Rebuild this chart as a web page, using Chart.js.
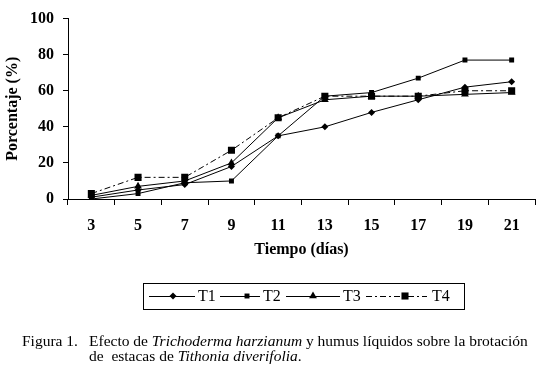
<!DOCTYPE html>
<html>
<head>
<meta charset="utf-8">
<script src="https://cdn.jsdelivr.net/npm/chart.js@4/dist/chart.umd.min.js"></script>
<style>
  html, body { margin: 0; padding: 0; background: #fff; }
  #wrap { position: relative; width: 540px; height: 368px; }
  .cap { position: absolute; font-family: "Liberation Serif", "Times New Roman", serif; font-size: 15.5px; line-height: 17px; color: #000; white-space: nowrap; }
</style>
</head>
<body>
<div id="wrap">
  <canvas id="chart_brotacion" width="540" height="368"></canvas>
  <div class="cap" style="left:22px; top:332px;">Figura 1.</div>
  <div class="cap" style="left:89px; top:332px;">Efecto de <i>Trichoderma harzianum</i> y humus líquidos sobre la brotación</div>
  <div class="cap" style="left:89px; top:347px;">de&nbsp; estacas de <i>Tithonia diverifolia</i>.</div>
</div>
<script>
var dias = ['3', '5', '7', '9', '11', '13', '15', '17', '19', '21'];
var t1 = [1, 5, 8, 18, 35, 40, 48, 55, 62, 65];
var t2 = [0, 3, 9, 10, 35, 57, 59, 67, 77, 77];
var t3 = [2, 7, 10, 20, 45, 55, 57, 57, 58, 59];
var t4 = [3, 12, 12, 27, 45, 57, 57, 57, 60, 60];

var serif = '"Liberation Serif", "Times New Roman", serif';

function serie(label, data, style, radius, dash) {
    return {
        label: label,
        data: data,
        borderColor: '#000',
        backgroundColor: '#000',
        borderWidth: 1,
        borderDash: dash || [],
        pointStyle: style,
        pointRadius: radius,
        pointBorderWidth: 0,
        tension: 0
    };
}

var chart_brotacion = new Chart(document.getElementById('chart_brotacion'), {
    type: 'line',
    data: {
        labels: dias,
        datasets: [
            serie('T1', t1, 'rectRot', 3.5),
            serie('T2', t2, 'rect', 3.5),
            serie('T3', t3, 'triangle', 4.5),
            serie('T4', t4, 'rect', 5, [6, 3, 2, 3])
        ]
    },
    options: {
        animation: false,
        responsive: false,
        layout: { padding: { top: 15, right: 5, bottom: 109, left: 0 } },
        plugins: {
            legend: { display: false },
            tooltip: { enabled: false }
        },
        scales: {
            x: {
                type: 'category',
                offset: true,
                grid: { offset: true, drawOnChartArea: false, color: '#000', tickLength: 6 },
                border: { color: '#000', width: 1 },
                ticks: { color: '#000', padding: 11, font: { family: serif, size: 16, weight: 'bold' } },
                title: {
                    display: true, text: 'Tiempo (días)', color: '#000',
                    font: { family: serif, size: 16, weight: 'bold' }, padding: 0
                },
                afterFit: function (s) { s.height = 60; }
            },
            y: {
                min: 0, max: 100,
                grid: { drawOnChartArea: false, color: '#000', tickLength: 5 },
                border: { color: '#000', width: 1 },
                ticks: { stepSize: 20, color: '#000', padding: 9, font: { family: serif, size: 16, weight: 'bold' } },
                title: {
                    display: true, text: 'Porcentaje (%)', color: '#000',
                    font: { family: serif, size: 16, weight: 'bold' }, padding: { top: 3, bottom: 0 }
                },
                afterFit: function (s) { s.width = 68; }
            }
        }
    },
    plugins: [{
        id: 'fondoYLeyenda',
        beforeDraw: function (chart) {
            var ctx = chart.ctx;
            ctx.save();
            ctx.fillStyle = 'white';
            ctx.fillRect(0, 0, chart.width, chart.height);
            ctx.restore();
        },
        afterDraw: function (chart) {
            var ctx = chart.ctx;
            // legend box
            var box = { x: 143, y: 283, w: 321, h: 26 };
            var cy = box.y + box.h / 2;
            var items = [
                { x0: 149, x1: 195, m: 173, tx: 198 },
                { x0: 220, x1: 260, m: 247, tx: 263 },
                { x0: 286, x1: 340, m: 313, tx: 343 },
                { x0: 366, x1: 427, m: 405, tx: 432 }
            ];
            ctx.save();
            ctx.strokeStyle = '#000';
            ctx.lineWidth = 1;
            ctx.strokeRect(box.x + 0.5, box.y + 0.5, box.w, box.h);
            ctx.font = '16px ' + serif;
            ctx.fillStyle = '#000';
            ctx.textBaseline = 'middle';
            chart.data.datasets.forEach(function (ds, i) {
                var it = items[i];
                ctx.save();
                ctx.setLineDash(ds.borderDash);
                ctx.beginPath();
                ctx.moveTo(it.x0, cy + 0.5);
                ctx.lineTo(it.x1, cy + 0.5);
                ctx.stroke();
                ctx.restore();
                Chart.helpers.drawPoint(ctx, {
                    pointStyle: ds.pointStyle, radius: ds.pointRadius, borderWidth: 0, rotation: 0
                }, it.m, cy);
                ctx.fillText(ds.label, it.tx, cy + 1);
            });
            ctx.restore();
        }
    }]
});
</script>
</body>
</html>
